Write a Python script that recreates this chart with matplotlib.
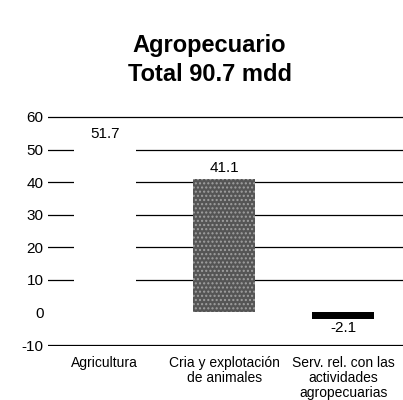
import matplotlib
matplotlib.use("Agg")
from matplotlib import pyplot as plt

categories = ["Agricultura", "Cria y explotación\nde animales",
              "Serv. rel. con las\nactividades\nagropecuarias"]
values = [51.7, 41.1, -2.1]
value_labels = ["51.7", "41.1", "-2.1"]
yticks = [-10, 0, 10, 20, 30, 40, 50, 60]

plt.rcParams["font.family"] = ["Liberation Sans", "DejaVu Sans"]

fig = plt.figure(figsize=(4.03, 4.0), dpi=100)
ax = fig.add_axes([0.118, 0.135, 0.882, 0.575])

x = range(len(values))
colors = ["white", "#555555", "black"]
bars = ax.bar(x, values, width=0.52, color=colors, zorder=3)
bars[1].set_hatch("....")
bars[1].set_edgecolor("#a0a0a0")
bars[1].set_linewidth(0)

ax.set_xlim(-0.48, 2.5)
ax.set_ylim(-10.3, 60.3)
ax.set_yticks(yticks)
ax.set_yticklabels([str(t) for t in yticks], fontsize=11)
ax.set_xticks(list(x))
ax.set_xticklabels(categories, fontsize=10, linespacing=1.1)
ax.tick_params(axis="both", length=0)
ax.tick_params(axis="x", pad=7)
ax.tick_params(axis="y", pad=3)

# gridlines, the zero line does not show in the original
for t in yticks:
    if t != 0:
        ax.axhline(t, color="black", linewidth=0.9, zorder=1)

for s in ax.spines.values():
    s.set_visible(False)

for i, (v, lab) in enumerate(zip(values, value_labels)):
    if v >= 0:
        ax.text(i, v + 1.0, lab, ha="center", va="bottom", fontsize=11, zorder=4)
    else:
        ax.text(i, v - 0.6, lab, ha="center", va="top", fontsize=11, zorder=4)

fig.text(0.52, 0.85, "Agropecuario\nTotal 90.7 mdd", ha="center", va="center",
         fontsize=17, fontweight="bold", linespacing=1.3)

fig.savefig("out.png", dpi=100, facecolor="white")
